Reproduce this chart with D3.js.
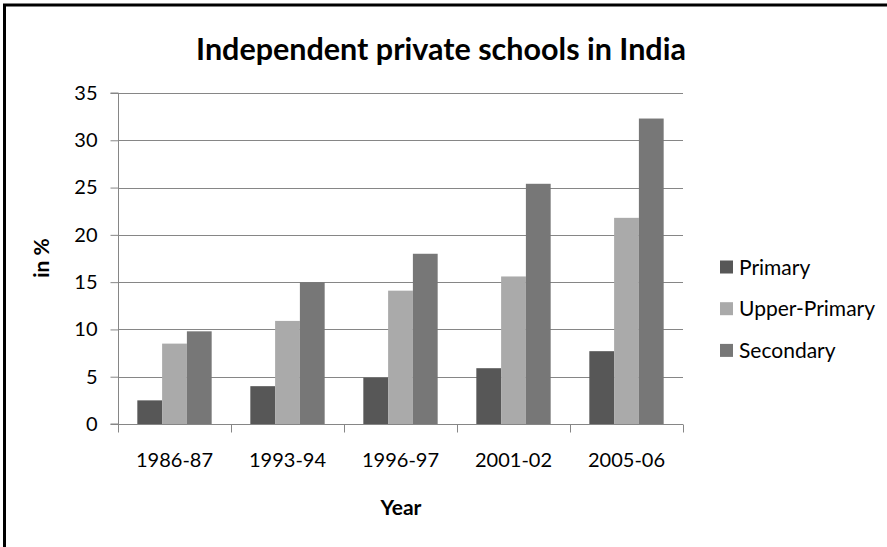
<!DOCTYPE html>
<html>
<head>
<meta charset="utf-8">
<script src="https://cdn.jsdelivr.net/npm/d3@7/dist/d3.min.js"></script>
<style>
  html, body { margin: 0; padding: 0; background: #fff; }
  svg { display: block; }
  text { font-family: Lato, "Open Sans", sans-serif; fill: #000; }
</style>
</head>
<body>
<svg id="chart" width="887" height="547"></svg>
<script>
const categories = ["1986-87", "1993-94", "1996-97", "2001-02", "2005-06"];
const seriesNames = ["Primary", "Upper-Primary", "Secondary"];
const primary = [2.5, 4.0, 4.9, 5.9, 7.7];
const upperPrimary = [8.5, 10.9, 14.1, 15.6, 21.8];
const secondary = [9.8, 15.0, 18.0, 25.4, 32.3];
const yTicks = [0, 5, 10, 15, 20, 25, 30, 35];
const colors = ["#575757", "#aaaaaa", "#777777"];

const seriesValues = [primary, upperPrimary, secondary];
const rows = categories.map((c, i) => ({
  cat: c,
  vals: seriesNames.map((s, j) => ({ key: s, value: seriesValues[j][i], color: colors[j] }))
}));

const svg = d3.select("#chart");

// outer border (only top/left visible in frame)
svg.append("rect").attr("x", 4.5).attr("y", 5).attr("width", 900).attr("height", 600)
  .attr("fill", "none").attr("stroke", "#000").attr("stroke-width", 3);

const m = { left: 118, right: 683, top: 93, bottom: 424 };
const x = d3.scaleBand().domain(categories).range([m.left, m.right]).paddingInner(0).paddingOuter(0);
const x1 = d3.scaleBand().domain(seriesNames).range([0, x.bandwidth()]).paddingInner(0).paddingOuter(0.78);
const y = d3.scaleLinear().domain([0, 35]).range([m.bottom, m.top]);

const gridColor = "#868686";

// gridlines
svg.append("g").selectAll("line").data(yTicks.filter(d => d > 0)).join("line")
  .attr("x1", m.left).attr("x2", m.right)
  .attr("y1", d => Math.round(y(d)) + 0.5).attr("y2", d => Math.round(y(d)) + 0.5)
  .attr("stroke", gridColor).attr("stroke-width", 1);

// bars
const g = svg.append("g").selectAll("g").data(rows).join("g")
  .attr("transform", d => `translate(${x(d.cat)},0)`);
g.selectAll("rect").data(d => d.vals).join("rect")
  .attr("x", d => x1(d.key))
  .attr("width", x1.bandwidth())
  .attr("y", d => y(d.value))
  .attr("height", d => y(0) - y(d.value))
  .attr("fill", d => d.color);

// y axis
const yAxis = d3.axisLeft(y).tickValues(yTicks).tickSize(8).tickPadding(13).tickFormat(d3.format("d"));
const ya = svg.append("g").attr("transform", `translate(${m.left + 0.5},0)`).call(yAxis);
ya.select(".domain").attr("stroke", gridColor).attr("d", `M-8,${y(0)}H0V${y(35)}H-8`);
ya.selectAll(".tick line").attr("stroke", gridColor);
ya.selectAll(".tick text").style("font-size", "20px").attr("fill", "#000").style("font-family", "Lato, sans-serif");

// x axis
const xa = svg.append("g").attr("transform", `translate(0,${Math.round(y(0)) + 0.5})`);
xa.append("line").attr("x1", m.left).attr("x2", m.right).attr("stroke", gridColor);
const boundaries = categories.map(c => x(c)).concat([x(categories[categories.length - 1]) + x.bandwidth()]);
xa.selectAll("line.tk").data(boundaries).join("line").attr("class", "tk")
  .attr("x1", d => Math.round(d) + 0.5).attr("x2", d => Math.round(d) + 0.5)
  .attr("y1", 0).attr("y2", 8).attr("stroke", gridColor);
xa.selectAll("text").data(categories).join("text")
  .attr("x", d => x(d) + x.bandwidth() / 2)
  .attr("y", 42)
  .attr("text-anchor", "middle")
  .style("font-size", "20px")
  .text(d => d);

// title
svg.append("text").attr("x", 441).attr("y", 60).attr("text-anchor", "middle")
  .style("font-size", "30.5px").style("font-weight", "bold").text("Independent private schools in India");

// axis titles
svg.append("text").attr("transform", "translate(49,258) rotate(-90)").attr("text-anchor", "middle")
  .style("font-size", "21px").style("font-weight", "bold").text("in %");
svg.append("text").attr("x", 401).attr("y", 515).attr("text-anchor", "middle")
  .style("font-size", "21px").style("font-weight", "bold").text("Year");

// legend
const lg = svg.append("g").selectAll("g").data(seriesNames).join("g")
  .attr("transform", (d, i) => `translate(720,${267 + i * 41.7})`);
lg.append("rect").attr("x", 0).attr("y", -6.5).attr("width", 13).attr("height", 13)
  .attr("fill", (d, i) => colors[i]);
lg.append("text").attr("x", 19).attr("y", 7.5).style("font-size", "21px").text(d => d);
</script>
</body>
</html>
